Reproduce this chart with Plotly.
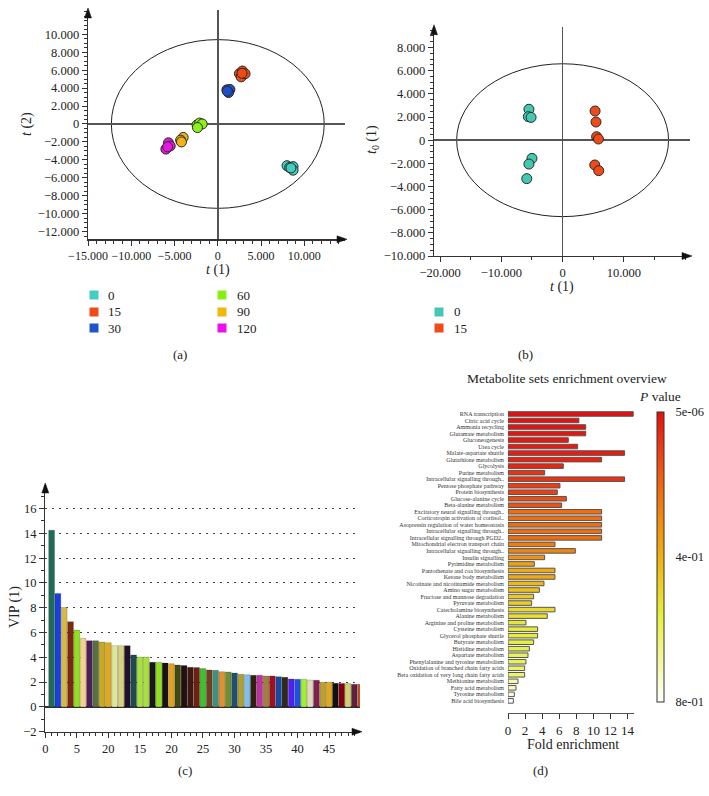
import plotly.graph_objects as go

W, H = 709, 796
FONT = "Liberation Serif, Times New Roman, serif"
INK = "#222222"

# ---------------- data: panel (a) PCA scores ----------------
a_labels = ["0", "15", "30", "60", "90", "120"]
a_colors = ["#3fd0c0", "#f24a14", "#1f4fc8", "#8ef01e", "#f0b41a", "#e617e0"]
a_legend_colors = ["#45ccc4", "#f44a1a", "#1f55c8", "#86f014", "#f0b808", "#ee10ee"]
a_t1_0 = [8000, 8300, 8700, 8700, 8450]
a_t2_0 = [-4650, -4850, -4750, -5150, -4900]
a_t1_15 = [2500, 2700, 2850, 3150, 2800]
a_t2_15 = [5600, 5250, 5900, 5600, 5650]
a_t1_30 = [1050, 1400, 1250, 1100]
a_t2_30 = [3800, 3850, 3500, 3650]
a_t1_60 = [-2400, -2100, -1800, -2350]
a_t2_60 = [-100, 100, 0, -400]
a_t1_90 = [-4000, -4300, -4200]
a_t2_90 = [-1500, -1800, -2000]
a_t1_120 = [-5700, -5500, -6000, -5800]
a_t2_120 = [-2100, -2450, -2800, -2550]
a_xticks = [-15000, -10000, -5000, 0, 5000, 10000]
a_xticktext = ["\u221215.000", "\u221210.000", "\u22125.000", "0", "5.000", "10.000"]
a_yticks = [-12000, -10000, -8000, -6000, -4000, -2000, 0, 2000, 4000, 6000, 8000, 10000]
a_yticktext = ["\u221212.000", "\u221210.000", "\u22128.000", "\u22126.000", "\u22124.000",
               "\u22122.000", "0", "2.000", "4.000", "6.000", "8.000", "10.000"]
a_ellipse = (12300, 9400)

# ---------------- data: panel (b) OPLS-DA scores ----------------
b_labels = ["0", "15"]
b_colors = ["#44c8b0", "#f04a18"]
b_t1_0 = [-5500, -5600, -5150, -5000, -5500, -5850]
b_t0_0 = [2670, 2030, 1970, -1570, -2060, -3320]
b_t1_15 = [5300, 5450, 5550, 5850, 5250, 5900]
b_t0_15 = [2520, 1570, 300, 100, -2140, -2630]
b_xticks = [-20000, -10000, 0, 10000]
b_xticktext = ["\u221220.000", "\u221210.000", "0", "10.000"]
b_yticks = [-10000, -8000, -6000, -4000, -2000, 0, 2000, 4000, 6000, 8000]
b_yticktext = ["\u221210.000", "\u22128.000", "\u22126.000", "\u22124.000", "\u22122.000",
               "0", "2.000", "4.000", "6.000", "8.000"]
b_ellipse = (17300, 6600)

# ---------------- data: panel (c) VIP ----------------
c_index = list(range(1, 51))
c_vip = [14.25, 9.15, 8.02, 6.87, 6.2, 5.53, 5.34, 5.34, 5.23, 5.18,
         4.94, 4.94, 4.94, 4.19, 4.03, 4.02, 3.6, 3.6, 3.54, 3.49,
         3.38, 3.33, 3.19, 3.17, 3.09, 2.98, 2.95, 2.84, 2.82, 2.74,
         2.63, 2.6, 2.55, 2.55, 2.5, 2.5, 2.44, 2.39, 2.25, 2.23,
         2.23, 2.17, 2.15, 1.99, 1.99, 1.9, 1.88, 1.88, 1.83, 1.83]
c_colors = ["#1e6b5a", "#1a3fe0", "#d9b84a", "#7a2a10", "#8ee020", "#f5d090", "#4a1f5a", "#5a7040",
            "#c8a820", "#e0a820", "#d8e8a0", "#d8d080", "#201028", "#1e4a50", "#a8e040", "#a8e040",
            "#181818", "#90e020", "#1a1410", "#e0a020", "#404a10", "#201010", "#401810", "#702010",
            "#40c030", "#704020", "#409080", "#e09030", "#709030", "#205070", "#b0a030", "#80c0e8",
            "#302010", "#c030a0", "#a08040", "#a01020", "#1848a0", "#302818", "#5020f0", "#2050e0",
            "#a0f030", "#e0d8c0", "#802050", "#b8a030", "#e0a820", "#101010", "#800010", "#d0d070",
            "#602040", "#c84a20"]
c_xticks = [0, 5, 10, 15, 20, 25, 30, 35, 40, 45]
c_xticktext = ["0", "5", "20", "15", "20", "25", "30", "35", "40", "45"]
c_yticks = [-2, 0, 2, 4, 6, 8, 10, 12, 14, 16]
c_yticktext = ["\u22122", "0", "2", "4", "6", "8", "10", "12", "14", "16"]

# ---------------- data: panel (d) enrichment ----------------
d_sets = ["RNA transcription", "Citric acid cycle", "Ammonia recycling", "Glutamate metabolism",
          "Gluconeogenesis", "Urea cycle", "Malate-aspartate shuttle", "Glutathione metabolism",
          "Glycolysis", "Purine metabolism", "Intracellular signalling through..",
          "Pentose phosphate pathway", "Protein biosynthesis", "Glucose-alanine cycle",
          "Beta-alanine metabolism", "Excitatory neural signalling through..",
          "Corticotropin activation of cortisol..", "Asopressin regulation of water homeostasis",
          "Intracellular signalling through..", "Intracellular signalling through PGD2..",
          "Mitochondrial electron transport chain", "Intracellular signalling through..",
          "Insulin signalling", "Pyrimidine metabolism", "Pantothenate and coa biosynthesis",
          "Ketone body metabolism", "Nicotinate and nicotinamide metabolism",
          "Amino sugar metabolism", "Fructose and mannose degradation", "Pyruvate metabolism",
          "Catecholamine biosynthesis", "Alanine metabolism", "Arginine and proline metabolism",
          "Cysteine metabolism", "Glycerol phosphate shuttle", "Butyrate metabolism",
          "Histidine metabolism", "Aspartate metabolism", "Phenylalanine and tyrosine metabolism",
          "Oxidation of branched chain fatty acids", "Beta oxidation of very long chain fatty acids",
          "Methionine metabolism", "Fatty acid metabolism", "Tyrosine metabolism",
          "Bile acid biosynthesis"]
d_fold = [14.66, 8.3, 9.1, 9.1, 7.06, 8.15, 13.65, 10.96, 6.47, 4.29,
          13.65, 6.08, 5.77, 6.83, 6.28, 10.96, 10.96, 10.96, 10.96, 10.96,
          5.5, 7.88, 4.29, 3.08, 5.5, 5.5, 4.21, 3.67, 3.0, 2.77,
          5.5, 4.6, 2.1, 3.47, 3.47, 3.0, 2.5, 2.34, 2.1, 1.95,
          1.95, 1.17, 0.94, 0.74, 0.62]
d_pvalue = [5e-6, 0.005, 0.01, 0.012, 0.02, 0.025, 0.03, 0.04, 0.05, 0.08,
            0.08, 0.1, 0.11, 0.14, 0.15, 0.22, 0.22, 0.22, 0.22, 0.22,
            0.26, 0.28, 0.32, 0.36, 0.38, 0.38, 0.42, 0.44, 0.46, 0.47,
            0.5, 0.52, 0.54, 0.55, 0.55, 0.57, 0.58, 0.6, 0.6, 0.62,
            0.62, 0.7, 0.72, 0.76, 0.8]
d_xticks = [0, 2, 4, 6, 8, 10, 12, 14]
d_cbar_vals = [-5e-6, -0.4, -0.8]
d_cbar_text = ["5e-06", "4e-01", "8e-01"]


def fx(p):
    return p / W


def fy(p):
    return 1 - p / H


fig = go.Figure()

# panel (a)
a_series = [(a_t1_0, a_t2_0), (a_t1_15, a_t2_15), (a_t1_30, a_t2_30),
            (a_t1_60, a_t2_60), (a_t1_90, a_t2_90), (a_t1_120, a_t2_120)]
for lab, col, (xs, ys) in zip(a_labels, a_colors, a_series):
    fig.add_trace(go.Scatter(x=xs, y=ys, mode="markers", name=lab, xaxis="x", yaxis="y",
                             marker=dict(size=10, color=col, line=dict(width=1, color="#2a2a2a")),
                             showlegend=False))

# panel (b)
for lab, col, (xs, ys) in zip(b_labels, b_colors, [(b_t1_0, b_t0_0), (b_t1_15, b_t0_15)]):
    fig.add_trace(go.Scatter(x=xs, y=ys, mode="markers", name=lab, xaxis="x2", yaxis="y2",
                             marker=dict(size=10, color=col, line=dict(width=1, color="#2a2a2a")),
                             showlegend=False))

# panel (c)
fig.add_trace(go.Bar(x=c_index, y=c_vip, xaxis="x3", yaxis="y3", width=0.92,
                     marker=dict(color=c_colors, line=dict(width=0.5, color="rgba(0,0,0,0.35)")),
                     showlegend=False))

# panel (d)
fig.add_trace(go.Bar(x=d_fold, y=list(range(len(d_sets))), orientation="h",
                     xaxis="x4", yaxis="y4", width=0.7,
                     marker=dict(color=[-p for p in d_pvalue], cmin=-0.8, cmax=0,
                                 colorscale=[[0, "#ffffff"], [0.12, "#f6f7b0"], [0.3, "#e6f03a"],
                                             [0.5, "#f0b010"], [0.72, "#f07010"], [0.88, "#ec3a12"],
                                             [1, "#e60f0f"]],
                                 line=dict(width=1, color="#555555"),
                                 colorbar=dict(x=fx(657), xanchor="left", y=fy(557), yanchor="middle",
                                               len=290 / H, lenmode="fraction", thickness=7,
                                               thicknessmode="pixels", outlinewidth=1,
                                               outlinecolor="#333333", tickvals=d_cbar_vals,
                                               ticktext=d_cbar_text, ticks="outside", ticklen=9,
                                               tickcolor="rgba(0,0,0,0)",
                                               tickfont=dict(family=FONT, size=12.5, color=INK),
                                               xpad=0, ypad=0)),
                     showlegend=False))

tickfont = dict(family=FONT, size=12.5, color=INK)


def axis(domain, rng, tickvals, ticktext, minor_dtick=None, **kw):
    d = dict(domain=domain, range=rng, tickmode="array", tickvals=tickvals, ticktext=ticktext,
             ticks="outside", ticklen=5, tickwidth=1, tickcolor="#333333", showline=True,
             linecolor="#333333", linewidth=1.3, showgrid=False, zeroline=False,
             tickfont=tickfont, fixedrange=True, tickangle=0, automargin=False)
    if minor_dtick:
        d["minor"] = dict(ticks="outside", ticklen=3, tick0=0, dtick=minor_dtick,
                          tickcolor="#333333", showgrid=False)
    d.update(kw)
    return d


fig.update_layout(
    width=W, height=H, margin=dict(l=0, r=0, t=0, b=0, autoexpand=False),
    paper_bgcolor="white", plot_bgcolor="white",
    font=dict(family=FONT, color=INK),
    bargap=0,
    xaxis=axis([fx(88), fx(345)], [-15000, 14700], a_xticks, a_xticktext, 1000, anchor="y",
               zeroline=True, zerolinecolor="#555555", zerolinewidth=1.5,
               tickfont=dict(family=FONT, size=12, color=INK)),
    yaxis=axis([fy(239.3), fy(10)], [-12850, 12700], a_yticks, a_yticktext, 500, anchor="x",
               zeroline=True, zerolinecolor="#555555", zerolinewidth=1.5),
    xaxis2=axis([fx(434), fx(690)], [-21000, 20800], b_xticks, b_xticktext, 5000, anchor="y2",
                zeroline=True, zerolinecolor="#555555", zerolinewidth=1.5),
    yaxis2=axis([fy(256), fy(26.7)], [-10000, 9800], b_yticks, b_yticktext, 500, anchor="x2",
                zeroline=True, zerolinecolor="#555555", zerolinewidth=1.5),
    xaxis3=axis([fx(45.3), fx(360)], [0, 49.9], c_xticks, c_xticktext, 1, anchor="y3"),
    yaxis3=axis([fy(731.7), fy(485)], [-2, 17.9], c_yticks, c_yticktext, 1, anchor="x3",
                showgrid=True, gridcolor="#444444", gridwidth=1, griddash="2px,5px",
                zeroline=True, zerolinecolor="#333333", zerolinewidth=1.2),
    xaxis4=axis([fx(508), fx(634)], [0, 14.75], d_xticks, [str(v) for v in d_xticks], None,
                anchor="y4", tickfont=dict(family=FONT, size=13, color=INK), linecolor="#555555"),
    yaxis4=dict(domain=[fy(713), fy(410.7)], range=[45.86, -0.5], anchor="x4", tickmode="array",
                tickvals=list(range(len(d_sets))), ticktext=d_sets, ticks="", showline=False,
                showgrid=False, zeroline=False, ticklabelstandoff=3, automargin=False,
                tickfont=dict(family=FONT, size=6, color="#333333"), fixedrange=True),
)

# confidence ellipses
fig.add_shape(type="circle", xref="x", yref="y", x0=-a_ellipse[0], x1=a_ellipse[0],
              y0=-a_ellipse[1], y1=a_ellipse[1], line=dict(color="#222222", width=1), layer="below")
fig.add_shape(type="circle", xref="x2", yref="y2", x0=-b_ellipse[0], x1=b_ellipse[0],
              y0=-b_ellipse[1], y1=b_ellipse[1], line=dict(color="#222222", width=1), layer="below")


# axis arrow heads (filled triangles, pixel geometry converted to paper)
def tri(points):
    path = "M " + " L ".join(f"{fx(px)},{fy(py)}" for px, py in points) + " Z"
    fig.add_shape(type="path", xref="paper", yref="paper", path=path,
                  fillcolor="#111111", line=dict(color="#111111", width=0.5))


def arrow_right(tx, ty):
    tri([(tx + 2, ty), (tx - 8, ty - 3.5), (tx - 8, ty + 3.5)])


def arrow_up(tx, ty):
    tri([(tx, ty - 2), (tx - 3.5, ty + 8), (tx + 3.5, ty + 8)])


arrow_right(345, 239.3)
arrow_up(88, 10)
arrow_right(690, 256)
arrow_up(434, 26.7)
arrow_right(360, 731.7)
arrow_up(45.3, 485)


def text(x, y, s, size=13, angle=0, xanchor="center"):
    fig.add_annotation(xref="paper", yref="paper", x=fx(x), y=fy(y), text=s, showarrow=False,
                       xanchor=xanchor, yanchor="middle", textangle=angle,
                       font=dict(family=FONT, size=size, color=INK))


# axis titles and panel labels
text(218, 270, "<i>t</i> (1)", 14)
text(27, 124, "<i>t</i> (2)", 14, -90)
text(562, 287, "<i>t</i> (1)", 14)
text(372, 140, "<i>t</i><sub>0</sub> (1)", 14, -90)
text(15, 607, "VIP (1)", 14, -90)
text(573, 744, "Fold enrichment", 14)
text(567, 378, "Metabolite sets enrichment overview", 13.5)
text(660, 396, "<i>P</i> value", 13.5)
text(180, 354, "(a)", 13)
text(525, 354, "(b)", 13)
text(185, 770, "(c)", 13)
text(540, 770, "(d)", 13)


# legends
def legend_item(cx, cy, col, lab, tx):
    fig.add_shape(type="rect", xref="paper", yref="paper", x0=fx(cx - 4.5), x1=fx(cx + 4.5),
                  y0=fy(cy + 4.5), y1=fy(cy - 4.5), fillcolor=col, line=dict(width=0))
    text(tx, cy, lab, 13, xanchor="left")


a_pos = [(94, 295, 106), (94, 312, 106), (94, 328, 106),
         (222, 295, 235), (222, 312, 235), (222, 328, 235)]
for (cx, cy, tx), col, lab in zip(a_pos, a_legend_colors, a_labels):
    legend_item(cx, cy, col, lab, tx)
for (cx, cy, tx), col, lab in zip([(439, 312, 452), (439, 328, 452)], b_colors, b_labels):
    legend_item(cx, cy, col, lab, tx)

# remove the browser's default 8px body margin so the figure sits at the page origin
fig.write_html("out.html",
               config={"displayModeBar": False, "staticPlot": True},
               post_script="document.body.style.margin='0px';document.body.style.overflow='hidden';")
